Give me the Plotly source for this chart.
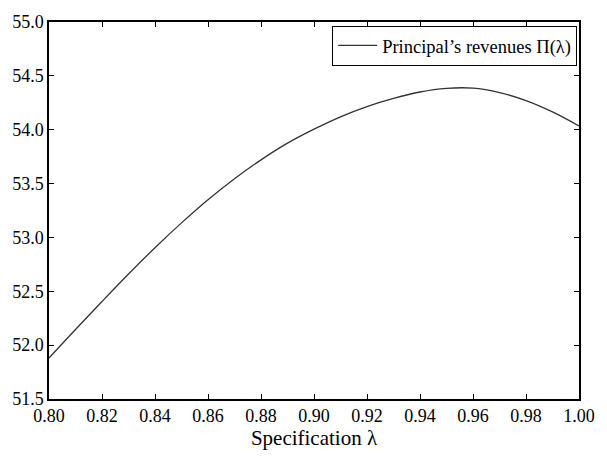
import plotly.graph_objects as go

spec = [0.80, 0.81, 0.82, 0.83, 0.84, 0.85, 0.86, 0.87, 0.88, 0.89, 0.90,
        0.91, 0.92, 0.93, 0.94, 0.95, 0.96, 0.97, 0.98, 0.99, 1.00]
revenues = [51.88, 52.145, 52.405, 52.66, 52.905, 53.135, 53.35, 53.545, 53.72, 53.875, 54.005,
            54.12, 54.215, 54.29, 54.35, 54.384, 54.386, 54.345, 54.27, 54.165, 54.035]

x_ticks = [0.80, 0.82, 0.84, 0.86, 0.88, 0.90, 0.92, 0.94, 0.96, 0.98, 1.00]
y_ticks = [51.5, 52.0, 52.5, 53.0, 53.5, 54.0, 54.5, 55.0]

FONT = "Liberation Serif"

fig = go.Figure()
fig.add_trace(go.Scatter(
    x=spec, y=revenues, mode="lines",
    line=dict(color="#333333", width=1.3, shape="spline", smoothing=1.0),
    name="Principal’s revenues Π(λ)",
))

def axis_style():
    return dict(
        showgrid=False, zeroline=False, showline=True, linecolor="black", linewidth=1.5,
        mirror="ticks", ticks="inside", ticklen=5, tickwidth=1, tickcolor="black",
        tickfont=dict(family=FONT, size=18, color="black"),
    )

fig.update_layout(
    width=607, height=457,
    margin=dict(l=49, r=18, t=15, b=56),
    paper_bgcolor="white", plot_bgcolor="white",
    font=dict(family=FONT, size=18, color="black"),
    showlegend=True,
    legend=dict(
        x=0.9965, y=0.99, xanchor="right", yanchor="top",
        bordercolor="black", borderwidth=1, bgcolor="white",
        itemwidth=39,
        font=dict(family=FONT, size=18.5, color="black"),
    ),
    xaxis=dict(range=[0.80, 1.00], tickvals=x_ticks, tickformat=".2f",
               title=dict(text="Specification λ", font=dict(family=FONT, size=21), standoff=4),
               **axis_style()),
    yaxis=dict(range=[51.5, 55.0], tickvals=y_ticks, tickformat=".1f", **axis_style()),
)

fig.write_html("out.html", config={"displayModeBar": False},
               post_script="document.body.style.margin='0';document.body.style.padding='0';")
